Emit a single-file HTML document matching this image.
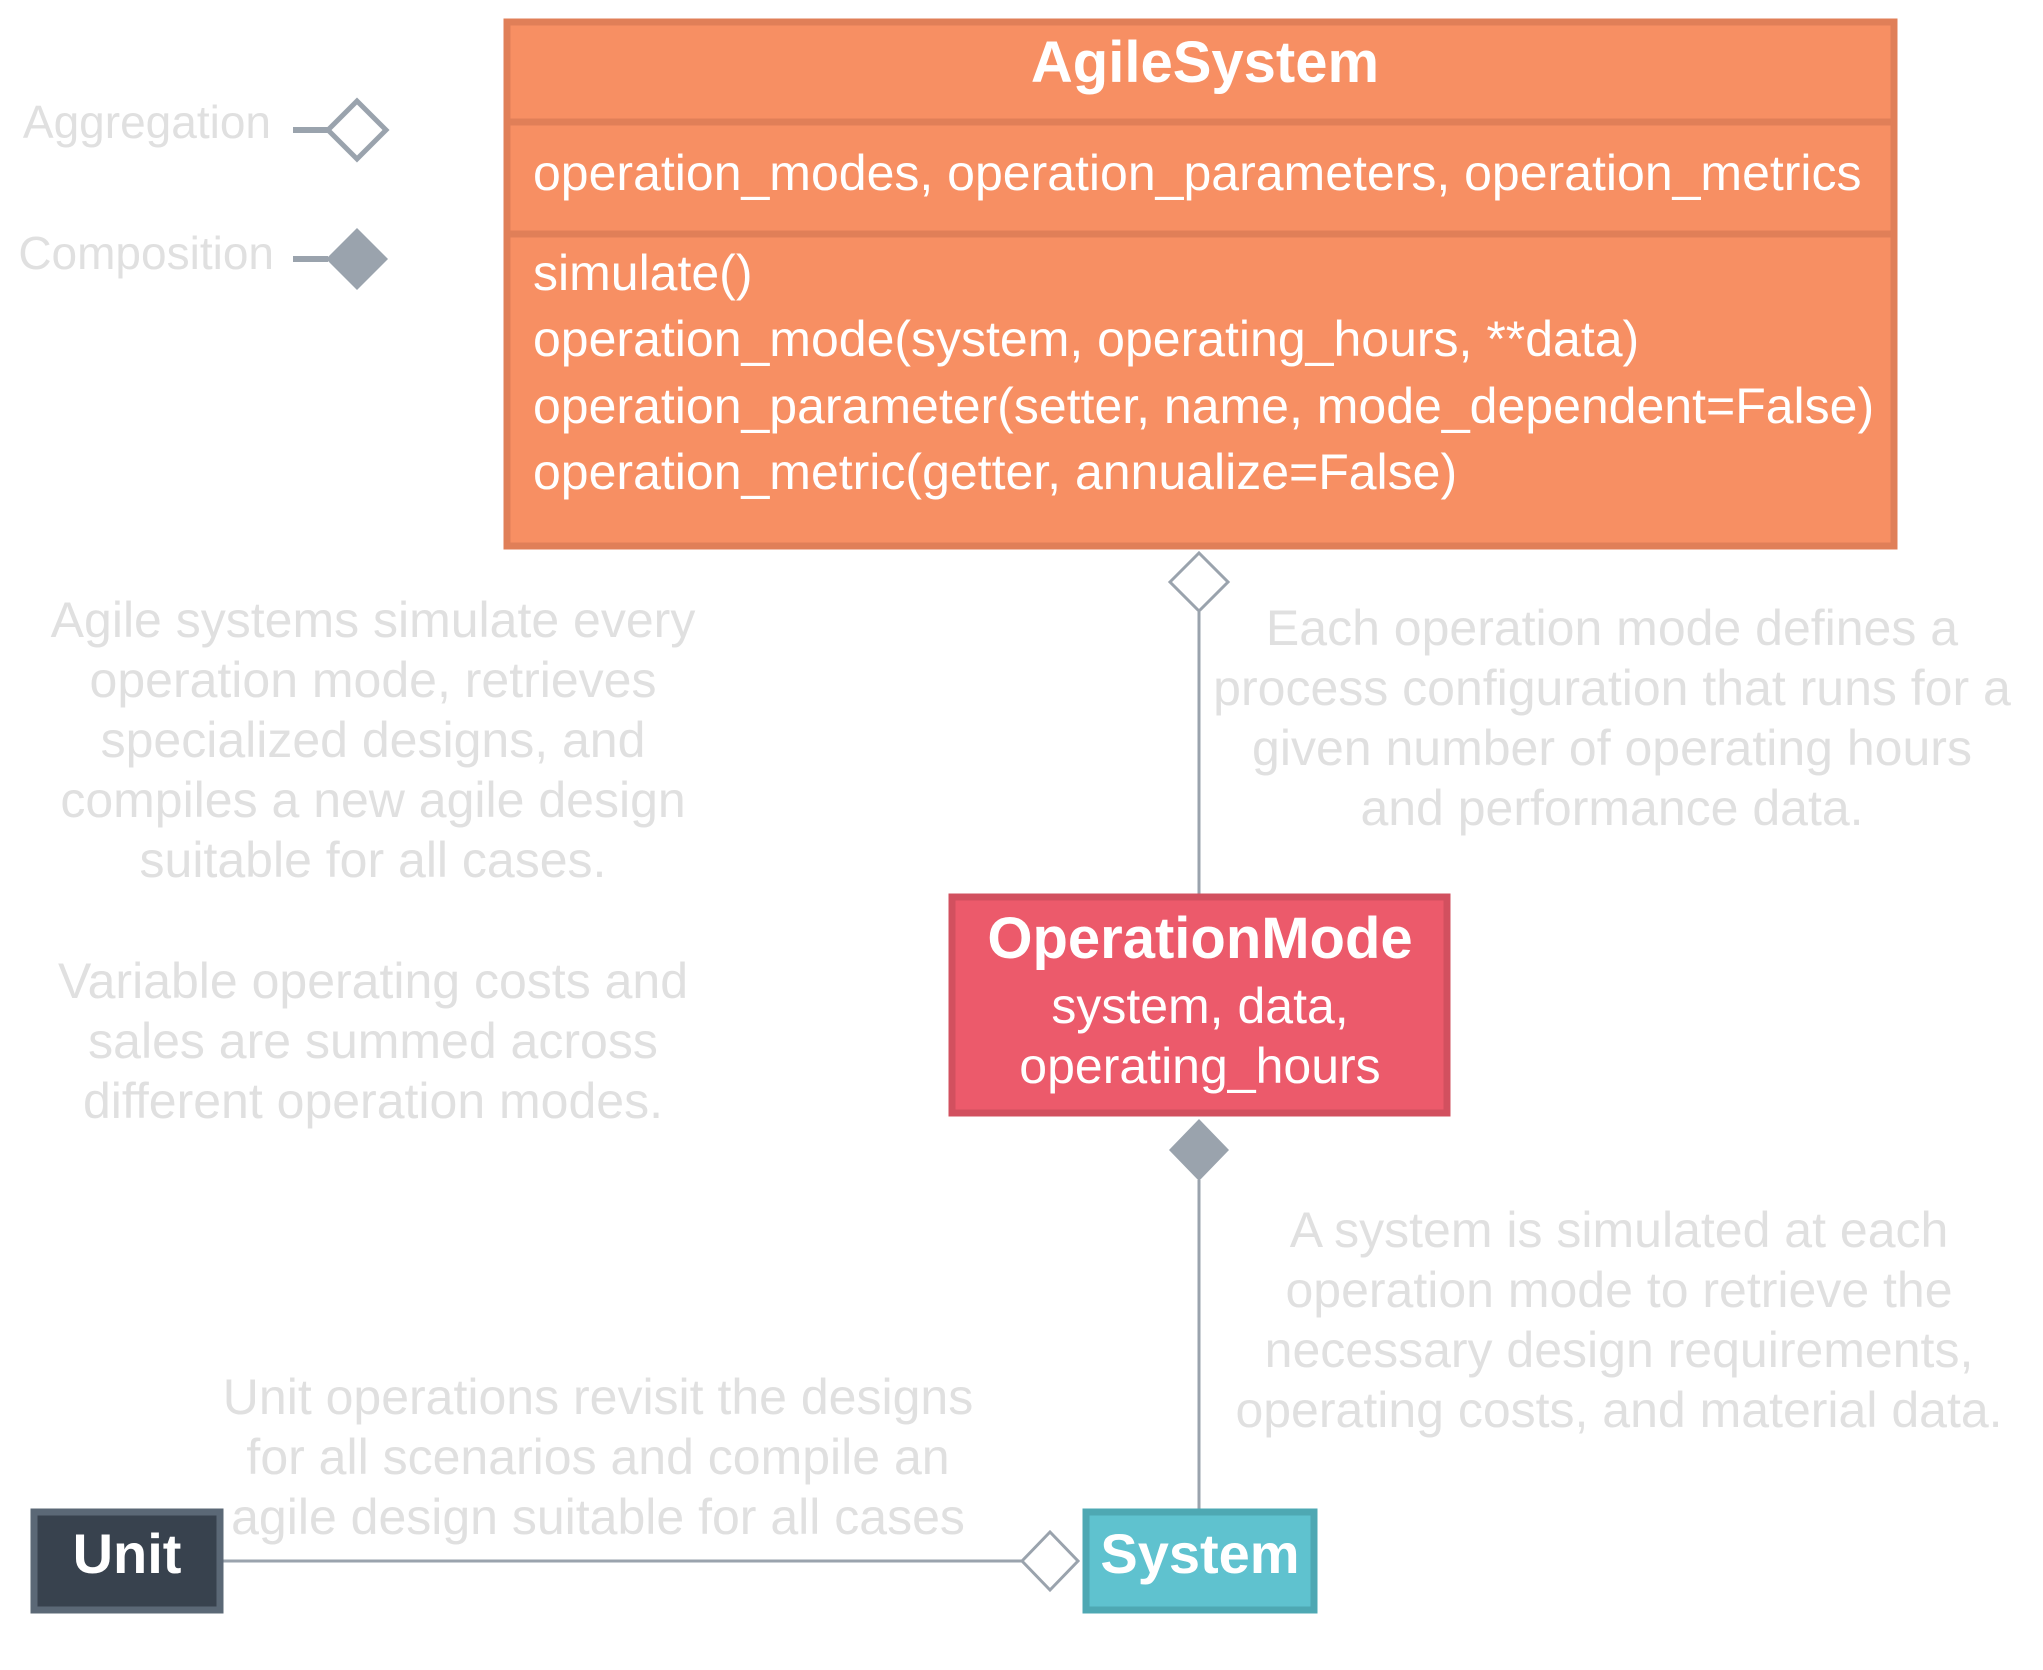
<!DOCTYPE html>
<html><head><meta charset="utf-8"><style>
html,body{margin:0;padding:0;background:#fff;}
svg{display:block;}
text{font-family:"Liberation Sans",Arial,sans-serif;}
</style></head><body>
<svg width="2043" height="1670" viewBox="0 0 2043 1670" xmlns="http://www.w3.org/2000/svg">
<rect width="2043" height="1670" fill="#fff"/>
<!-- legend -->
<g fill="#e0e0e0" font-size="46" text-anchor="end">
<text x="271" y="138">Aggregation</text>
<text x="274" y="269">Composition</text>
</g>
<line x1="293" y1="130" x2="328" y2="130" stroke="#9aa3ad" stroke-width="6"/>
<polygon points="328,130 357,101 386,130 357,159" fill="#fff" stroke="#9aa3ad" stroke-width="5"/>
<line x1="293" y1="259" x2="328" y2="259" stroke="#9aa3ad" stroke-width="6"/>
<polygon points="326,259 357,228 388,259 357,290" fill="#9aa3ad"/>

<!-- AgileSystem -->
<rect x="507" y="22" width="1387" height="524" fill="#f78f63" stroke="#e07f58" stroke-width="7"/>
<line x1="507" y1="122" x2="1894" y2="122" stroke="#e07f58" stroke-width="7"/>
<line x1="507" y1="234" x2="1894" y2="234" stroke="#e07f58" stroke-width="7"/>
<text x="1205" y="82" fill="#fff" font-size="58" font-weight="bold" text-anchor="middle">AgileSystem</text>
<g fill="#fff" font-size="50">
<text x="533" y="190">operation_modes, operation_parameters, operation_metrics</text>
<text x="533" y="290">simulate()</text>
<text x="533" y="356">operation_mode(system, operating_hours, **data)</text>
<text x="533" y="423">operation_parameter(setter, name, mode_dependent=False)</text>
<text x="533" y="489">operation_metric(getter, annualize=False)</text>
</g>

<!-- connectors -->
<line x1="1199" y1="612" x2="1199" y2="895" stroke="#9aa3ad" stroke-width="3"/>
<polygon points="1170,582 1199,553 1228,582 1199,611" fill="#fff" stroke="#9aa3ad" stroke-width="3"/>
<line x1="1199" y1="1180" x2="1199" y2="1510" stroke="#9aa3ad" stroke-width="3"/>
<polygon points="1169,1150 1199,1119 1229,1150 1199,1181" fill="#9aa3ad"/>
<line x1="223" y1="1561" x2="1022" y2="1561" stroke="#9aa3ad" stroke-width="3"/>
<polygon points="1022,1561 1050,1532 1078,1561 1050,1590" fill="#fff" stroke="#9aa3ad" stroke-width="3"/>

<!-- OperationMode -->
<rect x="952" y="897" width="495" height="216" fill="#ec5a6b" stroke="#d2505f" stroke-width="7"/>
<text x="1200" y="958" fill="#fff" font-size="58" font-weight="bold" text-anchor="middle">OperationMode</text>
<g fill="#fff" font-size="50" text-anchor="middle">
<text x="1200" y="1023">system, data,</text>
<text x="1200" y="1083">operating_hours</text>
</g>

<!-- System -->
<rect x="1086" y="1512" width="228" height="98" fill="#5fc2cf" stroke="#4ea8b3" stroke-width="7"/>
<text x="1200" y="1573" fill="#fff" font-size="56" font-weight="bold" text-anchor="middle">System</text>
<!-- Unit -->
<rect x="34" y="1512" width="186" height="98" fill="#38424e" stroke="#5b6876" stroke-width="7"/>
<text x="127" y="1573" fill="#fff" font-size="56" font-weight="bold" text-anchor="middle">Unit</text>

<!-- notes -->
<g fill="#e0e0e0" font-size="50" text-anchor="middle">
<text x="373" y="637">Agile systems simulate every</text>
<text x="373" y="697">operation mode, retrieves</text>
<text x="373" y="757">specialized designs, and</text>
<text x="373" y="817">compiles a new agile design</text>
<text x="373" y="877">suitable for all cases.</text>
<text x="373" y="998">Variable operating costs and</text>
<text x="373" y="1058">sales are summed across</text>
<text x="373" y="1118">different operation modes.</text>
<text x="1612" y="645">Each operation mode defines a</text>
<text x="1612" y="705">process configuration that runs for a</text>
<text x="1612" y="765">given number of operating hours</text>
<text x="1612" y="825">and performance data.</text>
<text x="1619" y="1247">A system is simulated at each</text>
<text x="1619" y="1307">operation mode to retrieve the</text>
<text x="1619" y="1367">necessary design requirements,</text>
<text x="1619" y="1427">operating costs, and material data.</text>
<text x="598" y="1414">Unit operations revisit the designs</text>
<text x="598" y="1474">for all scenarios and compile an</text>
<text x="598" y="1534">agile design suitable for all cases</text>
</g>
</svg>
</body></html>
